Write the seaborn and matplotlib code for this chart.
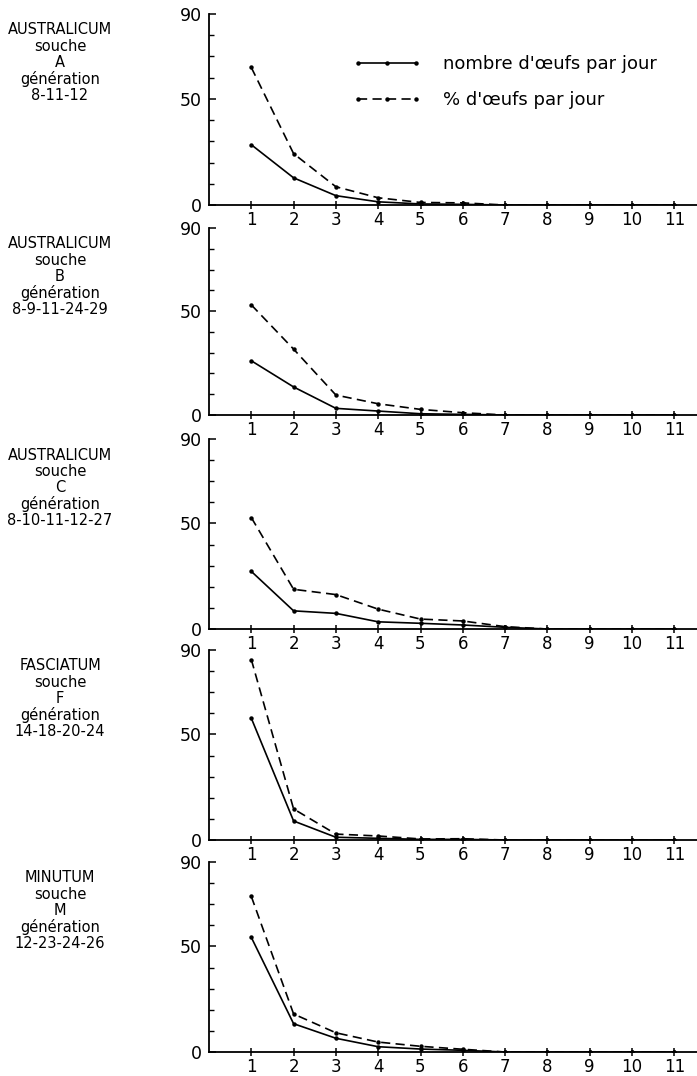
import numpy as np
import pandas as pd
import matplotlib
matplotlib.use("Agg")
import matplotlib.pyplot as plt
from matplotlib.lines import Line2D
from matplotlib.ticker import MultipleLocator, FixedLocator
import seaborn as sns

sns.set_theme(style="white")
plt.rcParams['font.family'] = ['DejaVu Sans']
plt.rcParams['text.color'] = 'black'
plt.rcParams['xtick.color'] = 'black'
plt.rcParams['ytick.color'] = 'black'

# ---------------- data ----------------
jours = [1, 2, 3, 4, 5, 6, 7, 8, 9, 10, 11]

nombre_A = [28.4, 12.8, 4.4, 1.5, 0.5, 0.3, 0, 0, 0, 0, 0]
pct_A    = [64.8, 24.2, 8.6, 3.4, 1.2, 1.0, 0, 0, 0, 0, 0]

nombre_B = [26.1, 13.5, 3.2, 1.9, 0.6, 0.3, 0, 0, 0, 0, 0]
pct_B    = [53.0, 31.7, 9.6, 5.4, 2.7, 1.1, 0, 0, 0, 0, 0]

nombre_C = [27.3, 8.6, 7.4, 3.4, 2.7, 1.9, 0.8, 0, 0, 0, 0]
pct_C    = [52.8, 18.8, 16.3, 9.4, 4.7, 3.8, 1.1, 0, 0, 0, 0]

nombre_F = [57.7, 9.0, 1.3, 0.8, 0.3, 0.3, 0, 0, 0, 0, 0]
pct_F    = [85.5, 14.7, 2.8, 1.9, 0.5, 0.6, 0, 0, 0, 0, 0]

nombre_M = [54.3, 13.4, 6.5, 2.5, 1.4, 0.8, 0, 0, 0, 0, 0]
pct_M    = [73.7, 18.0, 9.1, 4.7, 2.7, 1.3, 0, 0, 0, 0, 0]

labels_panneaux = [
    ["AUSTRALICUM", "souche", "A", "génération", "8-11-12"],
    ["AUSTRALICUM", "souche", "B", "génération", "8-9-11-24-29"],
    ["AUSTRALICUM", "souche", "C", "génération", "8-10-11-12-27"],
    ["FASCIATUM", "souche", "F", "génération", "14-18-20-24"],
    ["MINUTUM", "souche", "M", "génération", "12-23-24-26"],
]
series = [(nombre_A, pct_A), (nombre_B, pct_B), (nombre_C, pct_C),
          (nombre_F, pct_F), (nombre_M, pct_M)]

lab_nombre = "nombre d'œufs par jour"
lab_pct = "% d'œufs par jour"
y_ticks = [0, 50, 90]
x_ticks = jours

# ---------------- layout ----------------
W, H = 697, 1076
fig = plt.figure(figsize=(W / 100, H / 100), dpi=100)
panel_px = [(14, 205), (228, 415), (439, 629), (650, 840), (862, 1052)]
x0_px = 209

dash_pat = (5.5, 3.2)
lw = 1.2
ms = 3.2

for i, ((top, bot), (nb, pc), labs) in enumerate(zip(panel_px, series, labels_panneaux)):
    ax = fig.add_axes([x0_px / W, 1 - bot / H, (W - x0_px) / W, (bot - top) / H])
    df = pd.DataFrame({
        "jour": jours * 2,
        "valeur": nb + pc,
        "mesure": [lab_nombre] * len(jours) + [lab_pct] * len(jours),
    })
    sns.lineplot(data=df, x="jour", y="valeur", style="mesure",
                 dashes={lab_nombre: "", lab_pct: dash_pat},
                 markers={lab_nombre: "o", lab_pct: "o"},
                 markersize=ms, markeredgewidth=0,
                 color="black", linewidth=lw, legend=False, ax=ax)
    ax.set_xlim(0, (W - x0_px) / 42.3)
    ax.set_ylim(0, 90)
    ax.set_xlabel("")
    ax.set_ylabel("")
    ax.set_facecolor("none")
    for s in ["top", "right"]:
        ax.spines[s].set_visible(False)
    for s in ["left", "bottom"]:
        ax.spines[s].set_color("black")
        ax.spines[s].set_linewidth(1.3)
    ax.xaxis.set_major_locator(FixedLocator(x_ticks))
    ax.yaxis.set_major_locator(FixedLocator(y_ticks))
    ax.yaxis.set_minor_locator(MultipleLocator(10))
    ax.tick_params(axis="x", which="major", direction="inout", length=6,
                   width=1.1, color="black", labelcolor="black",
                   labelsize=12, pad=1.5, bottom=True)
    ax.tick_params(axis="y", which="major", direction="in", length=5,
                   width=1.1, color="black", labelcolor="black",
                   labelsize=12.5, pad=5, left=True)
    ax.tick_params(axis="y", which="minor", direction="in", length=3.5,
                   width=1.0, color="black", left=True)
    ax.grid(False)

    # left labels
    for k, t in enumerate(labs):
        ypx = top + 16 + k * 16.3
        fig.text(60 / W, 1 - ypx / H, t, ha="center", va="center",
                 fontsize=10.5, color="black")

    if i == 0:
        handles = [
            Line2D([], [], color="black", lw=lw, marker="o", markersize=ms,
                   markeredgewidth=0),
            Line2D([], [], color="black", lw=lw, marker="o", markersize=ms,
                   markeredgewidth=0, dashes=dash_pat),
        ]
        leg = ax.legend(handles, [lab_nombre, lab_pct], numpoints=3,
                        loc="upper left", bbox_to_anchor=(353 / W, 1 - 55 / H),
                        bbox_transform=fig.transFigure, frameon=False,
                        fontsize=13, handlelength=3.8, handletextpad=1.2,
                        labelspacing=1.0, borderpad=0, borderaxespad=0,
                        labelcolor="black")

fig.savefig("out.png", dpi=100)
